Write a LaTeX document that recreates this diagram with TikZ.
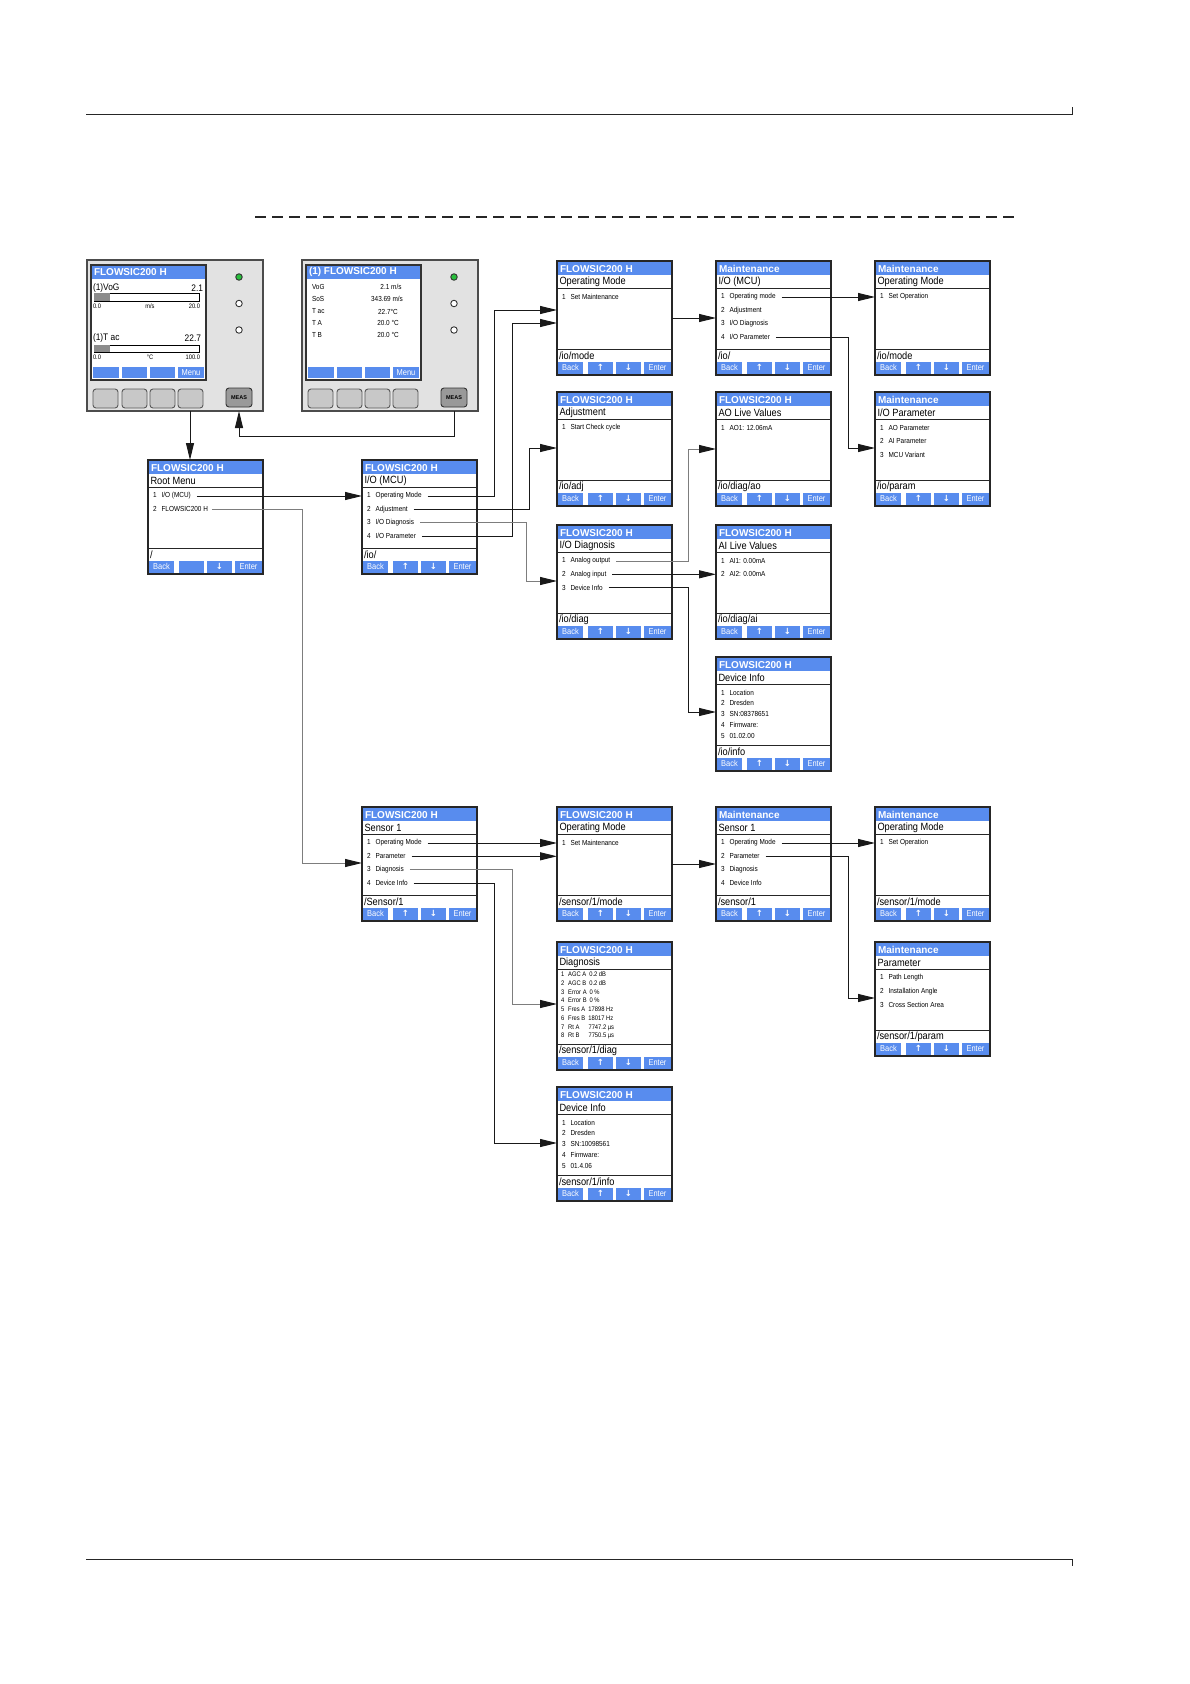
\documentclass[tikz,border=0pt]{standalone}
\usepackage{fontspec}
\setmainfont{Liberation Sans}
\newfontfamily\nar[FakeStretch=0.88]{Liberation Sans}
\newfontfamily\dvs{DejaVu Sans}
\usetikzlibrary{arrows.meta}
\definecolor{scrblue}{RGB}{88,140,238}
\definecolor{panelgray}{RGB}{226,226,226}
\definecolor{keygray}{RGB}{200,200,200}
\definecolor{linegray}{RGB}{125,125,125}
\definecolor{ledgreen}{RGB}{40,190,60}
\newcommand\upar{{\dvs\bfseries\char"2191}}
\newcommand\dnar{{\dvs\bfseries\char"2193}}
\tikzset{
  scrbg/.style={fill=white, inner sep=0pt, outer sep=0pt, anchor=north west},
  scrframe/.style={draw=black!85, line width=1.1pt},
  scrsep/.style={draw=black!85, line width=0.9pt},
  ttl/.style={anchor=west, inner sep=0pt, outer sep=0pt, text=white, font=\fontsize{10}{11}\selectfont\bfseries},
  sub/.style={anchor=west, inner sep=0pt, outer sep=0pt, font=\nar\fontsize{10.5}{11}\selectfont},
  mitem/.style={anchor=west, inner sep=0pt, outer sep=0pt, font=\nar\fontsize{7.3}{8}\selectfont},
  mitems/.style={anchor=west, inner sep=0pt, outer sep=0pt, font=\nar\fontsize{6.6}{7}\selectfont},
  btn/.style={inner sep=0pt, outer sep=0pt, text=white, font=\nar\fontsize{8.5}{9}\selectfont},
  hwpanelbox/.style={draw=black!70, line width=1.1pt, fill=panelgray, inner sep=0pt, outer sep=0pt, anchor=north west, minimum width=176pt, minimum height=151pt},
  lcdbox/.style={draw=black!80, line width=1.1pt, fill=white, inner sep=0pt, outer sep=0pt, anchor=north west, minimum width=115pt, minimum height=115pt},
  hwkey/.style={draw=black!65, line width=0.9pt, fill=keygray, rounded corners=3pt, inner sep=0pt, outer sep=0pt, minimum width=25pt, minimum height=19pt},
  measkey/.style={draw=black!80, line width=0.9pt, fill=black!40, rounded corners=3pt, inner sep=0pt, outer sep=0pt, minimum width=26pt, minimum height=19pt, font=\fontsize{5.5}{6}\selectfont\bfseries},
  led/.style={circle, draw=black!80, line width=0.9pt, fill=white, inner sep=0pt, outer sep=0pt, minimum size=6.5pt},
  lcdtxt/.style={inner sep=0pt, outer sep=0pt, font=\nar\fontsize{9.5}{10}\selectfont},
  lcdsm/.style={inner sep=0pt, outer sep=0pt, font=\nar\fontsize{6.5}{7}\selectfont},
  lcdrow/.style={inner sep=0pt, outer sep=0pt, font=\nar\fontsize{7.3}{8}\selectfont},
  pagerule/.style={line width=1pt, draw=black!85},
  dashline/.style={line width=1.2pt, draw=black!85, dash pattern=on 11pt off 6pt},
  arr/.style={line width=0.95pt, draw=black!90, -{Triangle[length=17pt,width=8pt]}},
  arrg/.style={line width=0.95pt, draw=linegray, -{Triangle[length=17pt,width=8pt,color=black!90]}},
}
\newcommand\mkscreen[8]{%
\begin{scope}[shift={(#2,#3)}]
\node[scrbg, minimum width=115pt, minimum height=#7pt] (#1) at (0,0) {};
\fill[scrblue] (0,0) rectangle (115,14);
\node[ttl] (#1-t) at (3,7.6) {#4};
\node[sub] (#1-s) at (2.5,20.5) {#5};
\draw[scrsep] (0,27) -- (115,27);
\draw[scrsep] (0,#7-26) -- (115,#7-26);
\node[sub] (#1-p) at (2,#7-19.5) {#6};
\fill[scrblue] (1,#7-13) rectangle (26,#7-1.5);
\fill[scrblue] (31,#7-13) rectangle (56,#7-1.5);
\fill[scrblue] (59,#7-13) rectangle (84,#7-1.5);
\fill[scrblue] (87,#7-13) rectangle (114,#7-1.5);
\node[btn] (#1-b1) at (13.5,#7-7.2) {Back};
\node[btn] (#1-b2) at (43.5,#7-7.2) {#8};
\node[btn] (#1-b3) at (71.5,#7-7.2) {\dnar};
\node[btn] (#1-b4) at (100.5,#7-7.2) {Enter};
\draw[scrframe] (0,0) rectangle (115,#7);
\end{scope}}
\newcommand\scrItem[5]{\node[mitem] (#1) at (#2+5,#3) {#4\hspace{5pt}#5};}
\newcommand\scrItemS[5]{\node[mitems] (#1) at (#2+4,#3) {#4\hspace{4pt}#5};}
\newcommand\hwpanel[2]{%
\begin{scope}[shift={(#2,0)}]
\node[hwpanelbox] (#1) at (87,260) {};
\node[lcdbox] (#1-lcd) at (91,265) {};
\fill[scrblue] (91.6,265.6) rectangle (205.4,278.5);
\fill[scrblue] (93,367) rectangle (119,378);
\fill[scrblue] (122,367) rectangle (147,378);
\fill[scrblue] (150,367) rectangle (175,378);
\fill[scrblue] (178,367) rectangle (204,378);
\node[btn] (#1-menu) at (191,372.5) {Menu};
\node[led, fill=ledgreen] (#1-l1) at (239,277) {};
\node[led] (#1-l2) at (239,303.5) {};
\node[led] (#1-l3) at (239,330) {};
\node[hwkey] (#1-k1) at (105.5,398.5) {};
\node[hwkey] (#1-k2) at (134.5,398.5) {};
\node[hwkey] (#1-k3) at (162.5,398.5) {};
\node[hwkey] (#1-k4) at (190.5,398.5) {};
\node[measkey] (#1-meas) at (239,397.5) {MEAS};
\end{scope}}
\begin{document}
\begin{tikzpicture}[x=1pt,y=-1pt]
\useasboundingbox (0,0) rectangle (1190,1684);
\fill[white] (0,0) rectangle (1190,1684);
% page rules
\draw[pagerule] (86,114) -- (1072,114) -- (1072,107);
\draw[pagerule] (86,1559) -- (1072,1559) -- (1072,1566);
\draw[dashline] (255,217) -- (1015,217);

% device panels
\hwpanel{p1}{0}
\node[ttl] (p1-t) at (94,272) {FLOWSIC200 H};
\node[lcdtxt, anchor=west] (p1-v) at (93,288) {(1)VoG};
\node[lcdtxt, anchor=east] (p1-vv) at (203,288) {2.1};
\draw[fill=white, line width=0.7pt] (94,293) rectangle (199,301);
\fill[black!45] (94.4,293.4) rectangle (110,300.6);
\node[lcdsm, anchor=west] (p1-a0) at (93,306.5) {0.0};
\node[lcdsm] (p1-au) at (150,306.5) {m/s};
\node[lcdsm, anchor=east] (p1-a1) at (200,306.5) {20.0};
\node[lcdtxt, anchor=west] (p1-T) at (93,338) {(1)T ac};
\node[lcdtxt, anchor=east] (p1-Tv) at (201,338) {22.7};
\draw[fill=white, line width=0.7pt] (94,345) rectangle (199,352);
\fill[black!45] (94.4,345.4) rectangle (110,351.6);
\node[lcdsm, anchor=west] (p1-b0) at (93,357.5) {0.0};
\node[lcdsm] (p1-bu) at (150,357.5) {°C};
\node[lcdsm, anchor=east] (p1-b1) at (200,357.5) {100.0};

\hwpanel{p2}{215}
\node[ttl] (p2-t) at (309,272) {(1) FLOWSIC200 H};
\node[lcdrow, anchor=west] (p2-r1) at (312,286.7) {VoG};
\node[lcdrow, anchor=west] (p2-r2) at (312,299.3) {SoS};
\node[lcdrow, anchor=west] (p2-r3) at (312,311.5) {T ac};
\node[lcdrow, anchor=west] (p2-r4) at (312,322.8) {T A};
\node[lcdrow, anchor=west] (p2-r5) at (312,334.5) {T B};
\node[lcdrow] (p2-v1) at (391,286.7) {2.1 m/s};
\node[lcdrow] (p2-v2) at (387,299.3) {343.69 m/s};
\node[lcdrow] (p2-v3) at (388,311.5) {22.7°C};
\node[lcdrow] (p2-v4) at (388,322.8) {20.0 °C};
\node[lcdrow] (p2-v5) at (388,334.5) {20.0 °C};

% screens
\mkscreen{root}{148}{460}{FLOWSIC200 H}{Root Menu}{/}{114}{}
\scrItem{r1}{148}{496}{1}{I/O (MCU)}
\scrItem{r2}{148}{509.3}{2}{FLOWSIC200 H}

\mkscreen{io}{362}{460}{FLOWSIC200 H}{I/O (MCU)}{/io/}{114}{\upar}
\scrItem{io1}{362}{496}{1}{Operating Mode}
\scrItem{io2}{362}{509.3}{2}{Adjustment}
\scrItem{io3}{362}{522.6}{3}{I/O Diagnosis}
\scrItem{io4}{362}{536}{4}{I/O Parameter}

\mkscreen{opm}{557}{261}{FLOWSIC200 H}{Operating Mode}{/io/mode}{114}{\upar}
\scrItem{opm1}{557}{297}{1}{Set Maintenance}

\mkscreen{mio}{716}{261}{Maintenance}{I/O (MCU)}{/io/}{114}{\upar}
\scrItem{mio1}{716}{297}{1}{Operating mode}
\scrItem{mio2}{716}{310.3}{2}{Adjustment}
\scrItem{mio3}{716}{323.6}{3}{I/O Diagnosis}
\scrItem{mio4}{716}{337}{4}{I/O Parameter}

\mkscreen{mopm}{875}{261}{Maintenance}{Operating Mode}{/io/mode}{114}{\upar}
\scrItem{mopm1}{875}{297}{1}{Set Operation}

\mkscreen{adj}{557}{392}{FLOWSIC200 H}{Adjustment}{/io/adj}{114}{\upar}
\scrItem{adj1}{557}{428}{1}{Start Check cycle}

\mkscreen{ao}{716}{392}{FLOWSIC200 H}{AO Live Values}{/io/diag/ao}{114}{\upar}
\scrItem{ao1}{716}{428}{1}{AO1: 12.06mA}

\mkscreen{mpar}{875}{392}{Maintenance}{I/O Parameter}{/io/param}{114}{\upar}
\scrItem{mpar1}{875}{428}{1}{AO Parameter}
\scrItem{mpar2}{875}{441.3}{2}{AI Parameter}
\scrItem{mpar3}{875}{454.6}{3}{MCU Variant}

\mkscreen{iod}{557}{525}{FLOWSIC200 H}{I/O Diagnosis}{/io/diag}{114}{\upar}
\scrItem{iod1}{557}{561}{1}{Analog output}
\scrItem{iod2}{557}{574.3}{2}{Analog input}
\scrItem{iod3}{557}{587.6}{3}{Device Info}

\mkscreen{ai}{716}{525}{FLOWSIC200 H}{AI Live Values}{/io/diag/ai}{114}{\upar}
\scrItem{ai1}{716}{561}{1}{AI1: 0.00mA}
\scrItem{ai2}{716}{574.3}{2}{AI2: 0.00mA}

\mkscreen{dinfo}{716}{657}{FLOWSIC200 H}{Device Info}{/io/info}{114}{\upar}
\scrItem{dinfo1}{716}{692.4}{1}{Location}
\scrItem{dinfo2}{716}{703.2}{2}{Dresden}
\scrItem{dinfo3}{716}{714}{3}{SN:08378651}
\scrItem{dinfo4}{716}{724.8}{4}{Firmware:}
\scrItem{dinfo5}{716}{735.6}{5}{01.02.00}

\mkscreen{sens}{362}{807}{FLOWSIC200 H}{Sensor 1}{/Sensor/1}{114}{\upar}
\scrItem{sens1}{362}{843}{1}{Operating Mode}
\scrItem{sens2}{362}{856.3}{2}{Parameter}
\scrItem{sens3}{362}{869.6}{3}{Diagnosis}
\scrItem{sens4}{362}{883}{4}{Device Info}

\mkscreen{sopm}{557}{807}{FLOWSIC200 H}{Operating Mode}{/sensor/1/mode}{114}{\upar}
\scrItem{sopm1}{557}{843}{1}{Set Maintenance}

\mkscreen{msens}{716}{807}{Maintenance}{Sensor 1}{/sensor/1}{114}{\upar}
\scrItem{msens1}{716}{843}{1}{Operating Mode}
\scrItem{msens2}{716}{856.3}{2}{Parameter}
\scrItem{msens3}{716}{869.6}{3}{Diagnosis}
\scrItem{msens4}{716}{883}{4}{Device Info}

\mkscreen{msopm}{875}{807}{Maintenance}{Operating Mode}{/sensor/1/mode}{114}{\upar}
\scrItem{msopm1}{875}{843}{1}{Set Operation}

\mkscreen{diag}{557}{942}{FLOWSIC200 H}{Diagnosis}{/sensor/1/diag}{128}{\upar}
\scrItemS{diag1}{557}{974}{1}{AGC A\hspace{3pt}0.2 dB}
\scrItemS{diag2}{557}{982.9}{2}{AGC B\hspace{3pt}0.2 dB}
\scrItemS{diag3}{557}{991.8}{3}{Error A\hspace{3pt}0 \%}
\scrItemS{diag4}{557}{1000.7}{4}{Error B\hspace{3pt}0 \%}
\scrItemS{diag5}{557}{1009.6}{5}{Fres A\hspace{3pt}17898 Hz}
\scrItemS{diag6}{557}{1018.5}{6}{Fres B\hspace{3pt}18017 Hz}
\scrItemS{diag7}{557}{1027.4}{7}{Rt A\hspace{9pt}7747.2 µs}
\scrItemS{diag8}{557}{1036.3}{8}{Rt B\hspace{9pt}7750.5 µs}

\mkscreen{mspar}{875}{942}{Maintenance}{Parameter}{/sensor/1/param}{114}{\upar}
\scrItem{mspar1}{875}{978}{1}{Path Length}
\scrItem{mspar2}{875}{991.3}{2}{Installation Angle}
\scrItem{mspar3}{875}{1004.6}{3}{Cross Section Area}

\mkscreen{sinfo}{557}{1087}{FLOWSIC200 H}{Device Info}{/sensor/1/info}{114}{\upar}
\scrItem{sinfo1}{557}{1122.4}{1}{Location}
\scrItem{sinfo2}{557}{1133.2}{2}{Dresden}
\scrItem{sinfo3}{557}{1144}{3}{SN:10098561}
\scrItem{sinfo4}{557}{1154.8}{4}{Firmware:}
\scrItem{sinfo5}{557}{1165.6}{5}{01.4.06}

% connectors
\coordinate (rootin) at ([xshift=-15.5pt]root.north);
\draw[arr] (rootin |- p1.south) -- (rootin);
\draw[arr] (p2-meas |- p2.south) -- ++(0,25) -| (p1-meas |- p1.south);
\draw[arr] ([xshift=6pt]r1.east) -- (r1 -| io.west);
\coordinate (k4) at (302,863);
\draw[arrg] ([xshift=4pt]r2.east) -| (k4) -- (k4 -| sens.west);
\coordinate (k5) at (494,310);
\draw[arr] ([xshift=6pt]io1.east) -| (k5) -- (k5 -| opm.west);
\coordinate (k6) at (512,323);
\draw[arr] ([xshift=6pt]io4.east) -| (k6) -- (k6 -| opm.west);
\coordinate (k7) at (529,448);
\draw[arr] ([xshift=6pt]io2.east) -| (k7) -- (k7 -| adj.west);
\coordinate (k8) at (526,581);
\draw[arrg] ([xshift=6pt]io3.east) -| (k8) -- (k8 -| iod.west);
\draw[arr] (opm.east) -- (opm.east -| mio.west);
\draw[arr] ([xshift=6pt]mio1.east) -- (mio1 -| mopm.west);
\coordinate (k9) at (848,448);
\draw[arr] ([xshift=6pt]mio4.east) -| (k9) -- (k9 -| mpar.west);
\coordinate (k10) at (688,449);
\draw[arrg] ([xshift=6pt]iod1.east) -| (k10) -- (k10 -| ao.west);
\draw[arr] ([xshift=6pt]iod2.east) -- (iod2 -| ai.west);
\coordinate (k12) at (688,712);
\draw[arr] ([xshift=6pt]iod3.east) -| (k12) -- (k12 -| dinfo.west);
\draw[arr] ([xshift=6pt]sens1.east) -- (sens1 -| sopm.west);
\draw[arr] ([xshift=6pt]sens2.east) -- (sens2 -| sopm.west);
\coordinate (k15) at (512,1004);
\draw[arrg] ([xshift=6pt]sens3.east) -| (k15) -- (k15 -| diag.west);
\coordinate (k16) at (494,1143);
\draw[arr] ([xshift=6pt]sens4.east) -| (k16) -- (k16 -| sinfo.west);
\draw[arr] (sopm.east) -- (sopm.east -| msens.west);
\draw[arr] ([xshift=6pt]msens1.east) -- (msens1 -| msopm.west);
\coordinate (k19) at (848,998);
\draw[arr] ([xshift=6pt]msens2.east) -| (k19) -- (k19 -| mspar.west);
\end{tikzpicture}
\end{document}
